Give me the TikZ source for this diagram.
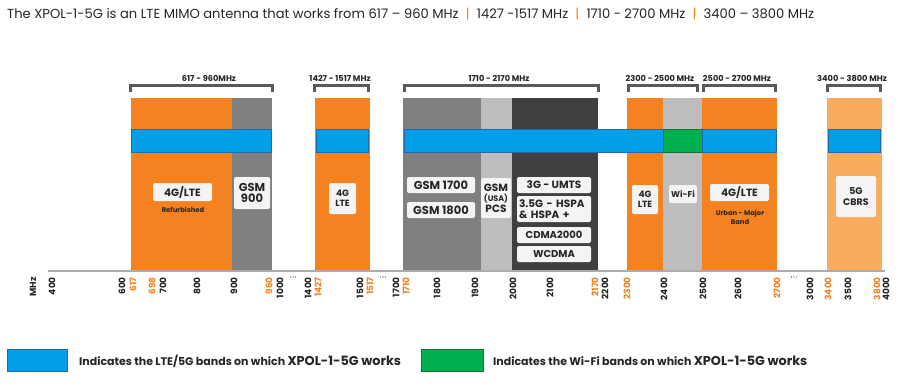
\documentclass[tikz,border=0pt]{standalone}
\usepackage{fontspec}
\setmainfont{Poppins}
\definecolor{orng}{HTML}{F58220}
\definecolor{lorng}{HTML}{FAAB5E}
\definecolor{gmid}{HTML}{808080}
\definecolor{glight}{HTML}{BDBDBD}
\definecolor{gdark}{HTML}{404040}
\definecolor{bandblue}{HTML}{009FE8}
\definecolor{bandblueedge}{HTML}{1F6BAE}
\definecolor{bandgreen}{HTML}{00B04F}
\definecolor{bandgreenedge}{HTML}{1E6E30}
\definecolor{brk}{HTML}{595959}
\definecolor{txt}{HTML}{262626}
\definecolor{lblfill}{HTML}{F4F4F4}
\definecolor{axisc}{HTML}{ABABAB}
\newcommand\mkbar[5]{\node[barbox, fill=#5, minimum width=#3pt-#2pt] (#1) at (#2,98) {};}
\newcommand\mkband[5]{\node[bandbox, fill=#4, draw=#5, minimum width=#3pt-#2pt] (#1) at (#2,129) {};}
\newcommand\mkbracket[5]{%
  \draw[bracket] (#1+1.5,92) -- (#1+1.5,85.5) -- (#2-1.5,85.5) -- (#2-1.5,92);
  \node[brlabel] (#5) at (#3,78) {#4};}
\begin{document}
\begin{tikzpicture}[x=1pt,y=-1pt]
\tikzset{
 barbox/.style={anchor=north west, inner sep=0pt, outer sep=0pt, minimum height=173pt, draw=none},
 bandbox/.style={anchor=north west, inner sep=0pt, outer sep=0pt, minimum height=23pt, line width=0.7pt},
 lbl/.style={fill=lblfill, rounded corners=2pt, inner sep=0.5pt, text=txt, align=center, font=\fontsize{10.5}{11}\selectfont\bfseries},
 small/.style={text=txt, align=center, inner sep=0pt, font=\fontsize{6.8}{8.5}\selectfont\bfseries},
 brlabel/.style={font=\fontsize{8.2}{10}\selectfont\bfseries, text=txt, inner sep=0pt},
 bracket/.style={draw=brk, line width=3pt, line join=miter},
 tickb/.style={rotate=90, anchor=east, inner sep=0pt, text=txt, font=\fontsize{9}{9}\selectfont\bfseries},
 ticko/.style={tickb, text=orng},
 legtext/.style={anchor=west, inner sep=0pt, text=txt, font=\fontsize{11}{12}\selectfont\bfseries},
}
\useasboundingbox (0,0) rectangle (900,389);
\fill[white] (0,0) rectangle (900,389);

% title
\node[anchor=base west, inner sep=0pt, text=txt, font=\fontsize{13.1}{14}\selectfont] (title) at (7,18)
 {The XPOL-1-5G is an LTE MIMO antenna that works from 617 – 960 MHz\hspace{0.55em}\textcolor{orng}{|}\hspace{0.55em}1427 -1517 MHz\hspace{0.55em}\textcolor{orng}{|}\hspace{0.55em}1710 - 2700 MHz\hspace{0.55em}\textcolor{orng}{|}\hspace{0.55em}3400 – 3800 MHz};

% bars
\mkbar{b617}{131}{232}{}{orng}
\mkbar{b900}{232}{272}{}{gmid}
\mkbar{b1427}{315}{370}{}{orng}
\mkbar{b1710}{403}{481}{}{gmid}
\mkbar{bpcs}{481}{512}{}{glight}
\mkbar{b3g}{512}{598}{}{gdark}
\mkbar{b2300}{627}{663}{}{orng}
\mkbar{bwifi}{663}{702}{}{glight}
\mkbar{b2500}{702}{777}{}{orng}
\mkbar{b3400}{827}{882}{}{lorng}

% bands
\mkband{s1}{131}{271}{bandblue}{bandblueedge}
\mkband{s2}{316}{368}{bandblue}{bandblueedge}
\mkband{s3}{404}{663}{bandblue}{bandblueedge}
\mkband{s4}{663}{702}{bandgreen}{bandgreenedge}
\mkband{s5}{702}{776}{bandblue}{bandblueedge}
\mkband{s6}{828}{880}{bandblue}{bandblueedge}

% brackets
\mkbracket{129}{274}{209}{617 - 960MHz}{k1}
\mkbracket{313}{370}{340}{1427 - 1517 MHz}{k2}
\mkbracket{403}{600}{499}{1710 - 2170 MHz}{k3}
\mkbracket{627}{699}{660}{2300 - 2500 MHz}{k4}
\mkbracket{702}{777}{737}{2500 - 2700 MHz}{k5}
\mkbracket{826}{882}{852}{3400 - 3800 MHz}{k6}

% labels
\node[lbl, minimum width=59pt, minimum height=18pt] (l1) at (182.5,192) {4G/LTE};
\node[small] (l1s) at (183,210) {Refurbished};
\node[lbl, minimum width=36pt, minimum height=32pt, font=\fontsize{11.5}{11.5}\selectfont\bfseries] (l2) at (252,193) {GSM\\900};
\node[lbl, minimum width=27pt, minimum height=31pt, font=\fontsize{9}{10.5}\selectfont\bfseries] (l3) at (342.5,198.5) {4G\\LTE};
\node[lbl, minimum width=68pt, minimum height=16pt, font=\fontsize{11.5}{12}\selectfont\bfseries] (l4) at (441,185) {GSM 1700};
\node[lbl, minimum width=68pt, minimum height=16pt, font=\fontsize{11.5}{12}\selectfont\bfseries] (l5) at (441,210) {GSM 1800};
\node[lbl, minimum width=30pt, minimum height=40pt, font=\fontsize{10.5}{10.5}\selectfont\bfseries] (l6) at (496,198) {GSM\\{\fontsize{8}{8}\selectfont(USA)}\\PCS};
\node[lbl, minimum width=74pt, minimum height=16pt] (l7) at (554,185) {3G - UMTS};
\node[lbl, minimum width=74pt, minimum height=26pt, align=left, text width=70pt] (l8) at (554,209) {3.5G - HSPA\\\& HSPA +};
\node[lbl, minimum width=74pt, minimum height=16pt, font=\fontsize{10}{11}\selectfont\bfseries] (l9) at (554,235) {CDMA2000};
\node[lbl, minimum width=74pt, minimum height=16pt, font=\fontsize{10}{11}\selectfont\bfseries] (l10) at (554,254) {WCDMA};
\node[lbl, minimum width=26pt, minimum height=29pt, font=\fontsize{9}{10.5}\selectfont\bfseries] (l11) at (645,199.5) {4G\\LTE};
\node[lbl, minimum width=28pt, minimum height=18pt, font=\fontsize{8.5}{9}\selectfont\bfseries] (l12) at (683,194) {Wi-Fi};
\node[lbl, minimum width=59pt, minimum height=17pt] (l13) at (739.5,192.5) {4G/LTE};
\node[small] (l13s) at (740,217.5) {Urban - Major\\Band};
\node[lbl, minimum width=40pt, minimum height=41pt, font=\fontsize{9.5}{11}\selectfont\bfseries] (l14) at (856,196.5) {5G\\CBRS};

% axis
\coordinate (ax0) at (48,271);
\coordinate (ax1) at (885,271);
\draw[axisc, line width=1.2pt] (ax0) -- (ax1);
\node[tickb] (mhz) at (33,277) {MHz};
\foreach \v/\x in {400/52,600/122,700/163,800/197,900/234,1000/280,1400/308,1500/360,1700/396,1800/437,1900/475,2000/513,2100/550,2200/605,2400/664,2500/703,2600/738,3000/810,3500/848,4000/886}
  \node[tickb] at (\x,277) {\v};
\foreach \v/\x in {617/133,698/152,960/269,1427/318,1517/370,1710/406,2170/595,2300/627,2700/777,3400/828,3800/877}
  \node[ticko] at (\x,277) {\v};
\foreach \x in {293,383,794}
  \foreach \d in {-2.6,0,2.6}
    \fill[txt] (\x+\d,277) circle (0.6pt);

% legend
\node[anchor=north west, inner sep=0pt, minimum width=60pt, minimum height=22pt, fill=bandblue, draw=bandblueedge, line width=0.7pt] (legb) at (7,349) {};
\node[legtext] (legbt) at (79,361) {Indicates the LTE/5G bands on which {\fontsize{12.8}{13}\selectfont XPOL-1-5G works}};
\node[anchor=north west, inner sep=0pt, minimum width=62pt, minimum height=22pt, fill=bandgreen, draw=bandgreenedge, line width=0.7pt] (legg) at (421,349) {};
\node[legtext] (leggt) at (493,361) {Indicates the Wi-Fi bands on which {\fontsize{12.8}{13}\selectfont XPOL-1-5G works}};
\end{tikzpicture}
\end{document}
